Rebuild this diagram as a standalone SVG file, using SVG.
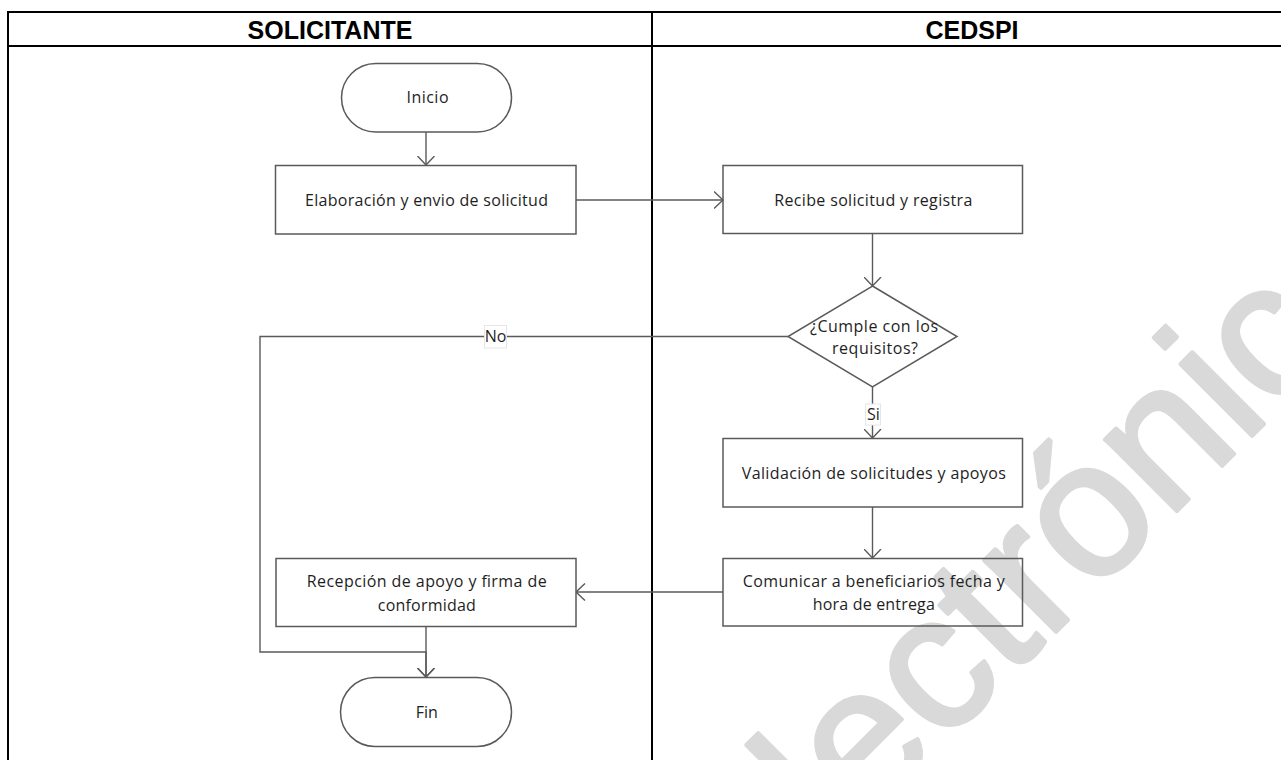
<svg xmlns="http://www.w3.org/2000/svg" width="1281" height="760" viewBox="0 0 1281 760">
<defs>
<style>
.tbl{stroke:#000;stroke-width:2;fill:none}
.hdr{font-family:"Liberation Sans",Arial,sans-serif;font-weight:bold;font-size:25px;fill:#000;text-anchor:middle}
.shape{fill:none;stroke:#5a5a5a;stroke-width:1.5}
.lbl{font-family:"Open Sans","Noto Sans",sans-serif;font-size:16px;fill:#1e1e1e;text-anchor:middle}
.con{fill:none;stroke:#5a5a5a;stroke-width:1.4}
.tag{fill:#fff;stroke:#e6e6e6;stroke-width:1}
.wm{font-family:"Liberation Sans",Arial,sans-serif;font-size:192px;fill:#d9d9d9;stroke:#d9d9d9;stroke-width:4;stroke-linejoin:round}
</style>
<marker id="arr" viewBox="0 0 10 18" refX="9.5" refY="9" markerWidth="10" markerHeight="18" orient="auto" markerUnits="userSpaceOnUse">
<path d="M0.5,0.5 L9.5,9 L0.5,17.5" fill="none" stroke="#5a5a5a" stroke-width="1.4"/>
</marker>
</defs>
<rect width="1281" height="760" fill="#fff"/>
<text class="wm" transform="translate(760,928) rotate(-45)">electrónico</text>
<g id="table">
<line class="tbl" x1="8" y1="12" x2="1281" y2="12"/>
<line class="tbl" x1="8" y1="46" x2="1281" y2="46"/>
<line class="tbl" x1="8" y1="11" x2="8" y2="760"/>
<line class="tbl" x1="652" y1="11" x2="652" y2="760"/>
<text class="hdr" x="330" y="38.5">SOLICITANTE</text>
<text class="hdr" x="972" y="38.5">CEDSPI</text>
</g>
<g id="connectors">
<path class="con" d="M426,132 V165" marker-end="url(#arr)"/>
<path class="con" d="M576,200 H723" marker-end="url(#arr)"/>
<path class="con" d="M872.5,233 V286" marker-end="url(#arr)"/>
<path class="con" d="M872.5,387 V438" marker-end="url(#arr)"/>
<path class="con" d="M872.5,507 V558" marker-end="url(#arr)"/>
<path class="con" d="M723,592 H576" marker-end="url(#arr)"/>
<path class="con" d="M426,627 V677" marker-end="url(#arr)"/>
<path class="con" d="M788,336.5 H260 V652 H426 V677" marker-end="url(#arr)"/>
<rect class="tag" x="484.5" y="325.5" width="22" height="22.5"/>
<text class="lbl" x="495.5" y="342">No</text>
<rect class="tag" x="865.5" y="404" width="15" height="21"/>
<text class="lbl" x="873.5" y="420">Si</text>
</g>
<g id="inicio">
<rect class="shape" x="341.5" y="63.5" width="170" height="68.5" rx="34.25" ry="34.25"/>
<text class="lbl" x="427.5" y="103" textLength="42">Inicio</text>
</g>
<g id="elaboracion">
<rect class="shape" x="275.5" y="165.5" width="300.5" height="68.5"/>
<text class="lbl" x="426.5" y="206" textLength="243">Elaboración y envio de solicitud</text>
</g>
<g id="recibe">
<rect class="shape" x="723" y="165.5" width="299.5" height="68"/>
<text class="lbl" x="873.3" y="205.5" textLength="198">Recibe solicitud y registra</text>
</g>
<g id="decision">
<polygon class="shape" points="872.5,286 957,336.5 872.5,387 788,336.5"/>
<text class="lbl" x="874" y="332" textLength="128">¿Cumple con los</text>
<text class="lbl" x="875" y="354" textLength="86">requisitos?</text>
</g>
<g id="validacion">
<rect class="shape" x="723" y="438.5" width="299.5" height="68.5"/>
<text class="lbl" x="873.8" y="479" textLength="264">Validación de solicitudes y apoyos</text>
</g>
<g id="comunicar">
<rect class="shape" x="723" y="558.5" width="299.5" height="67.5"/>
<text class="lbl" x="873.8" y="587" textLength="262">Comunicar a beneficiarios fecha y</text>
<text class="lbl" x="873.8" y="610" textLength="122">hora de entrega</text>
</g>
<g id="recepcion">
<rect class="shape" x="276" y="558.5" width="300" height="68"/>
<text class="lbl" x="426.7" y="587" textLength="240">Recepción de apoyo y firma de</text>
<text class="lbl" x="426.8" y="610.5" textLength="98">conformidad</text>
</g>
<g id="fin">
<rect class="shape" x="340.5" y="677.5" width="171" height="69" rx="34.5" ry="34.5"/>
<text class="lbl" x="426.7" y="718" textLength="22">Fin</text>
</g>
</svg>
